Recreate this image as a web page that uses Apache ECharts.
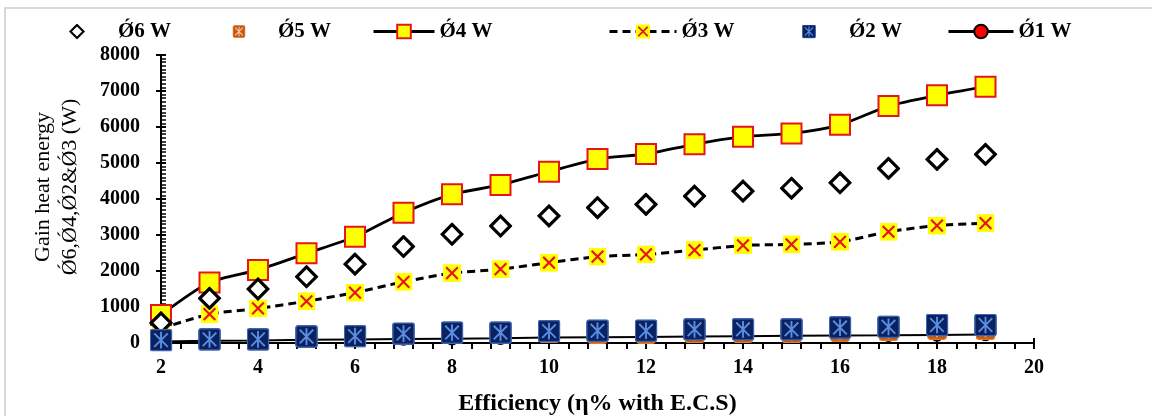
<!DOCTYPE html>
<html>
<head>
<meta charset="utf-8">
<script src="https://cdn.jsdelivr.net/npm/echarts@6/dist/echarts.min.js"></script>
<style>
html,body{margin:0;padding:0;background:#fff;}
#chart{width:1152px;height:416px;}
</style>
</head>
<body>
<div id="chart"></div>
<script>
// ---- data ----
var efficiency = [2,3,4,5,6,7,8,9,10,11,12,13,14,15,16,17,18,19];
var q6 = [560,1240,1500,1840,2190,2680,3020,3250,3530,3760,3850,4080,4220,4300,4450,4850,5100,5240];
var q5 = [60,80,80,150,160,220,240,240,270,250,250,270,270,270,300,330,360,360];
var q4 = [780,1680,2030,2490,2950,3620,4130,4390,4760,5110,5250,5520,5730,5820,6060,6580,6880,7120];
var q3 = [400,800,960,1160,1400,1700,1940,2050,2230,2400,2460,2580,2710,2740,2810,3090,3260,3330];
var q2 = [80,100,100,180,190,260,290,290,330,340,340,380,380,380,430,450,500,500];
var q1 = [40,60,70,90,100,110,120,130,150,160,170,180,190,200,210,215,225,235];
var seriesNames = ['Ǿ6 W','Ǿ5 W','Ǿ4 W','Ǿ3 W','Ǿ2 W','Ǿ1 W'];
var xTitle = 'Efficiency (η% with E.C.S)';
var yTitle = 'Gain heat energy\nǾ6,Ǿ4,Ǿ2&Ǿ3 (W)';

function pairs(vals){ return efficiency.map(function(x,i){ return [x, vals[i]]; }); }
function svgSym(svg){ return 'image://data:image/svg+xml;charset=utf-8,' + encodeURIComponent(svg); }

var symDiamond = svgSym("<svg xmlns='http://www.w3.org/2000/svg' width='24' height='24' viewBox='0 0 24 24'><path d='M12 2.2L21.8 12L12 21.8L2.2 12Z' fill='#ffffff' stroke='#000000' stroke-width='3.2'/></svg>");
var symX = svgSym("<svg xmlns='http://www.w3.org/2000/svg' width='20' height='20' viewBox='0 0 20 20'><rect width='20' height='20' fill='#ffff00'/><path d='M3.5 3.5L16.5 16.5M16.5 3.5L3.5 16.5' stroke='#e8141c' stroke-width='2.4'/></svg>");
var symBlue = svgSym("<svg xmlns='http://www.w3.org/2000/svg' width='22' height='22' viewBox='0 0 22 22'><rect x='0.8' y='0.8' width='20.4' height='20.4' rx='2' fill='#0b2260' stroke='#3f63b0' stroke-width='1.4'/><path d='M11 3V19M4.5 4.5L17.5 17.5M17.5 4.5L4.5 17.5' stroke='#5b8de0' stroke-width='1.8'/></svg>");
var symOrange = svgSym("<svg xmlns='http://www.w3.org/2000/svg' width='22' height='22' viewBox='0 0 22 22'><rect x='0.8' y='0.8' width='20.4' height='20.4' rx='3' fill='#c55a11' stroke='#e07b2a' stroke-width='1.4'/><path d='M11 3V19M4.5 4.5L17.5 17.5M17.5 4.5L4.5 17.5' stroke='#f8cbad' stroke-width='1.8'/></svg>");

var FONT = '"Liberation Serif", "Times New Roman", serif';
var legendText = { fontFamily: FONT, fontWeight: 'bold', fontSize: 21, color: '#000' };

function legendAt(name, left, w, h, isLine){
  var o = { data:[name], left:left, top:21, itemWidth:w, itemHeight:h, itemGap:0,
           padding:0, symbolKeepAspect:true, textStyle:legendText, selectedMode:false };
  if (isLine) { o.lineStyle = { width: 3 }; }
  return o;
}

var chart = echarts.init(document.getElementById('chart'), null, {renderer:'canvas'});
chart.setOption({
  backgroundColor: '#fff',
  animation: false,
  graphic: [{
    type:'rect', z:-10, silent:true,
    shape:{x:5, y:8, width:1170, height:430},
    style:{fill:'none', stroke:'#d9d9d9', lineWidth:2}
  }],
  legend: [
    legendAt(seriesNames[0], 41, 72, 16, false),
    legendAt(seriesNames[1], 205, 68, 13, false),
    legendAt(seriesNames[2], 372, 61, 17, true),
    legendAt(seriesNames[3], 608, 67, 18, true),
    legendAt(seriesNames[4], 774, 70, 14, false),
    legendAt(seriesNames[5], 947, 65, 17, true)
  ],
  grid: { left:161, right:118, top:55, bottom:73, outerBoundsMode:'none', containLabel:false },
  xAxis: [{
    type:'value', min:2, max:20, interval:2,
    name: xTitle, nameLocation:'middle', nameGap:49,
    nameTextStyle:{ fontFamily:FONT, fontWeight:'bold', fontSize:24, color:'#000' },
    axisLine:{ show:true, onZero:false, lineStyle:{ color:'#000', width:2 } },
    axisTick:{ show:true, inside:false, length:6, lineStyle:{ color:'#000', width:2 } },
    minorTick:{ show:true, splitNumber:5, length:6, lineStyle:{ color:'#000', width:2 } },
    axisLabel:{ fontFamily:FONT, fontWeight:'bold', fontSize:20, color:'#000', margin:15 },
    splitLine:{ show:false }
  },{
    type:'value', min:2, max:20, interval:2, position:'bottom',
    axisLine:{ show:false },
    axisTick:{ show:true, inside:true, length:5, lineStyle:{ color:'#000', width:2 } },
    axisLabel:{ show:false }, splitLine:{ show:false }
  }],
  yAxis: [{
    type:'value', min:0, max:8000, interval:1000,
    name: yTitle, nameLocation:'middle', nameGap:77, nameRotate:90,
    nameTextStyle:{ fontFamily:FONT, fontSize:22, lineHeight:27, color:'#000', padding:[0,0,0,24] },
    axisLine:{ show:true, onZero:false, lineStyle:{ color:'#000', width:2 } },
    axisTick:{ show:true, inside:true, length:5, lineStyle:{ color:'#000', width:2 } },
    minorTick:{ show:true, splitNumber:10, length:5, lineStyle:{ color:'#000', width:1.5 } },
    axisLabel:{ fontFamily:FONT, fontWeight:'bold', fontSize:20, color:'#000', margin:21,
                formatter:function(v){ return String(v); } },
    splitLine:{ show:false }
  },{
    type:'value', min:0, max:8000, interval:1000, position:'left', offset:0,
    axisLine:{ show:false },
    axisTick:{ show:true, inside:false, length:5, lineStyle:{ color:'#000', width:2 } },
    axisLabel:{ show:false }, splitLine:{ show:false }
  }],
  series: [
    { name: seriesNames[0], type:'scatter', z:4, data: pairs(q6),
      symbol: symDiamond, symbolSize: 24, itemStyle:{ opacity:1 } },
    { name: seriesNames[1], type:'scatter', z:6, data: pairs(q5),
      symbol: symOrange, symbolSize: 20, itemStyle:{ opacity:1 } },
    { name: seriesNames[2], type:'line', z:3, data: pairs(q4), smooth:0.25,
      symbol:'rect', symbolSize:20, showAllSymbol:true,
      lineStyle:{ color:'#000', width:2.8 },
      itemStyle:{ color:'#ffff00', borderColor:'#e8141c', borderWidth:2 } },
    { name: seriesNames[3], type:'line', z:2, data: pairs(q3), smooth:0.25,
      symbol: symX, symbolSize:18, showAllSymbol:true,
      lineStyle:{ color:'#000', width:3, type:[8,5] },
      itemStyle:{ color:'#ffff00' } },
    { name: seriesNames[4], type:'scatter', z:7, data: pairs(q2),
      symbol: symBlue, symbolSize: 23, itemStyle:{ opacity:1 } },
    { name: seriesNames[5], type:'line', z:5, data: pairs(q1),
      symbol:'circle', symbolSize:12, showAllSymbol:true,
      lineStyle:{ color:'#000', width:2 },
      itemStyle:{ color:'#ff0000', borderColor:'#000', borderWidth:1.5 } }
  ]
});
</script>
</body>
</html>
